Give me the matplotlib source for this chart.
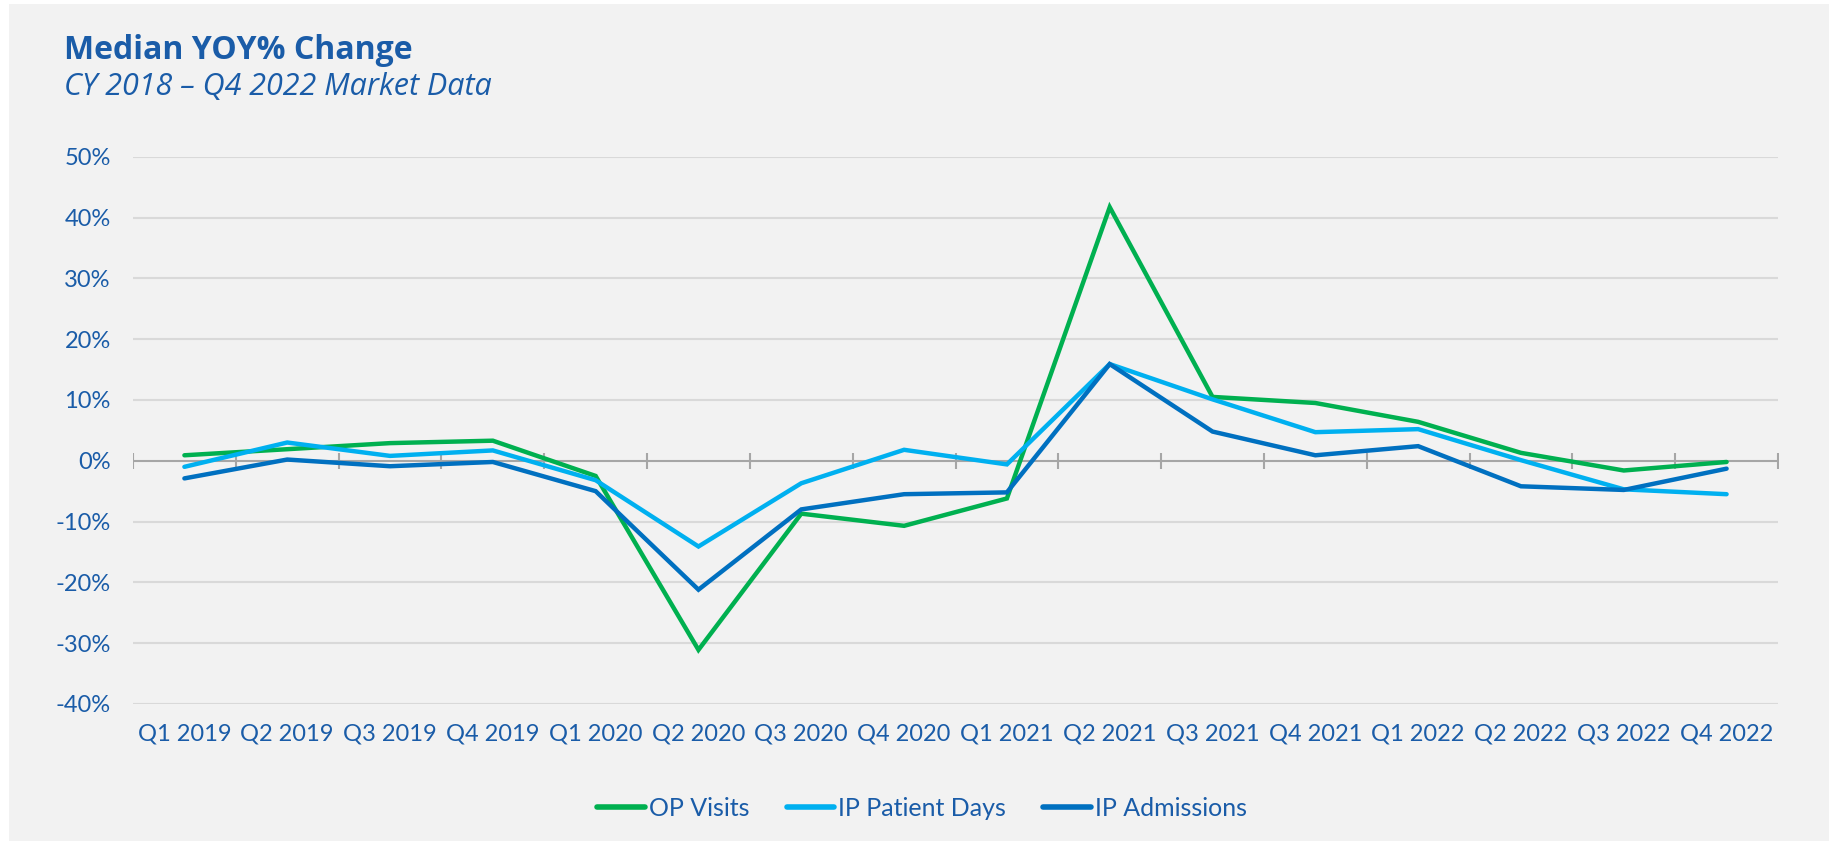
import numpy as np
import matplotlib.pyplot as plt
from matplotlib.patches import Rectangle
from matplotlib.lines import Line2D

# quarterly median YOY % change
quarters = ["Q1 2019", "Q2 2019", "Q3 2019", "Q4 2019",
            "Q1 2020", "Q2 2020", "Q3 2020", "Q4 2020",
            "Q1 2021", "Q2 2021", "Q3 2021", "Q4 2021",
            "Q1 2022", "Q2 2022", "Q3 2022", "Q4 2022"]
op_visits = [0.9, 1.9, 2.9, 3.3, -2.5, -31.1, -8.7, -10.7,
             -6.2, 41.7, 10.5, 9.5, 6.4, 1.3, -1.6, -0.2]
ip_patient_days = [-1.0, 3.0, 0.8, 1.7, -3.2, -14.1, -3.7, 1.8,
                   -0.6, 15.9, 10.1, 4.7, 5.2, 0.1, -4.7, -5.5]
ip_admissions = [-2.9, 0.2, -0.9, -0.2, -5.0, -21.2, -8.0, -5.5,
                 -5.2, 15.9, 4.8, 0.9, 2.4, -4.2, -4.8, -1.3]
y_ticks = [-40, -30, -20, -10, 0, 10, 20, 30, 40, 50]

series = [("OP Visits", op_visits, "#00B050"),
          ("IP Patient Days", ip_patient_days, "#00B0F0"),
          ("IP Admissions", ip_admissions, "#0070C0")]

TEXT = "#1A5CA8"
BG = "#F2F2F2"
narrow = ["Lato", "DejaVu Sans"]

W, H = 1829, 841
fig = plt.figure(figsize=(W / 100, H / 100), dpi=100)
fig.patch.set_facecolor("white")
fig.add_artist(Rectangle((9 / W, 0), 1 - 9 / W, 1 - 4 / H, transform=fig.transFigure,
                         facecolor=BG, edgecolor="none", zorder=-10))

ax = fig.add_axes([133 / W, 1 - 704 / H, 1645 / W, (704 - 156.7) / H])
ax.patch.set_alpha(0)
for s in ax.spines.values():
    s.set_visible(False)

x = np.arange(len(quarters))
ax.set_xlim(-0.5, len(quarters) - 0.5)
ax.set_ylim(min(y_ticks), max(y_ticks))

for v in y_ticks:
    if v != 0:
        ax.axhline(v, color="#D9D9D9", lw=1.5, zorder=1)
ax.axhline(0, color="#A6A6A6", lw=1.5, zorder=2)
bounds = np.arange(len(quarters) + 1) - 0.5
ax.plot(bounds, np.zeros_like(bounds), ls="none", marker="|", ms=11, mew=1.5,
        color="#A6A6A6", zorder=2)

for name, vals, col in series:
    ax.plot(x, vals, color=col, lw=3.2, solid_capstyle="round",
            solid_joinstyle="miter", label=name, zorder=3)

ax.set_yticks(y_ticks)
ax.set_yticklabels([f"{v}%" for v in y_ticks])
ax.set_xticks(x)
ax.set_xticklabels(quarters)
ax.tick_params(axis="y", length=0, pad=16, labelsize=17, labelcolor=TEXT)
ax.tick_params(axis="x", length=0, pad=14, labelsize=17, labelcolor=TEXT)
for lab in ax.get_xticklabels() + ax.get_yticklabels():
    lab.set_family(narrow)

fig.text(64 / W, 1 - 59 / H, "Median YOY% Change", color=TEXT, fontsize=23,
         fontweight="bold", family=["Open Sans", "DejaVu Sans"], va="baseline")
fig.text(64 / W, 1 - 95 / H, "CY 2018 \u2013 Q4 2022 Market Data", color=TEXT,
         fontsize=22, style="italic", family=["Open Sans", "DejaVu Sans"], va="baseline")

handles = [Line2D([], [], color=col, lw=4, solid_capstyle="round") for _, _, col in series]
fig.legend(handles, [s[0] for s in series], loc="center", bbox_to_anchor=(922 / W, 1 - 808 / H),
           ncol=3, frameon=False, prop={"family": narrow, "size": 18},
           labelcolor=TEXT, handlelength=1.9, handletextpad=0.15, columnspacing=1.5)

fig.savefig("out.png", dpi=100, facecolor=fig.get_facecolor())
